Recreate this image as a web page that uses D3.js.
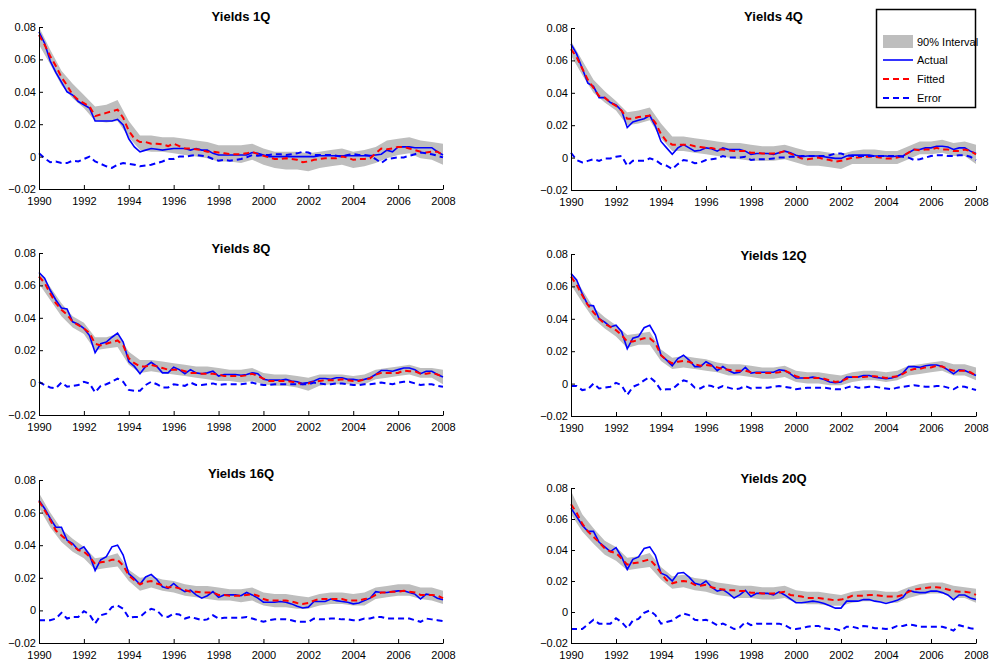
<!DOCTYPE html>
<html>
<head>
<meta charset="utf-8">
<script src="https://cdn.jsdelivr.net/npm/d3@7"></script>
<style>
  body { margin: 0; background: #fff; }
  svg { display: block; font-family: "Liberation Sans", Arial, Helvetica, sans-serif; }
</style>
</head>
<body>
<div id="chart"></div>
<script>
// all series values are in units of 0.001
// quarterly points 1990Q1 .. 2008Q1, the band is read every half year
const quarters = d3.range(73).map(i => 1990 + i * 0.25)
const halfYears = d3.range(37).map(i => 1990 + i * 0.5)
const xTicks = [1990, 1992, 1994, 1996, 1998, 2000, 2002, 2004, 2006, 2008]
const yTicks = [-0.02, 0, 0.02, 0.04, 0.06, 0.08]
const titles = ["Yields 1Q", "Yields 4Q", "Yields 8Q", "Yields 12Q", "Yields 16Q", "Yields 20Q"]
const legendLabels = ["90% Interval", "Actual", "Fitted", "Error"]

const actual1Q = [77,70,59,52, 46,40,38,34, 32,30,22,22, 22,22,23,19.5, 11,6,3,4, 5,4.5,4,4.5, 5,5,5,4, 5,4,4,2, 1,1,1,1, 1,1,2.5,2, 1,0,0,0, 0,0,0,0, 0,0,0.5,0.5, 0.5,0.5,0.5,0.5, 0.5,0.5,0.5,0.5, 1,1.5,4,3, 6,6,6,5.5, 5.5,5.5,5.5,3, 1]
const fitted1Q = [75,69,62,56, 49,44,38,35, 33,31,25,26, 27,28,29,24, 16,11,9,9, 8,8,7.5,6.5, 8,6.5,5,5, 4.5,4,3,3, 2.5,2,1.5,1.5, 1.5,2,3,1.5, 0.5,-0.5,-1.5,-1.5, -1,-1.5,-2,-3.5, -3,-2,-1.5,-1, -1,-1,0,-0.5, -2,-1.5,-1.5,-1, 2,5,4.5,5, 6,6,5,4, 3,2.5,3,3, 1]
const error1Q = [2,-1,-3.5,-3, -4,-4,-2.5,-3, -1.5,0,-3,-4.5, -6,-7,-5,-4, -4.5,-5,-6,-5.5, -5,-4,-3,-1.5, -1.5,0,0,0.5, 1,0.5,0,-1.5, -2.5,-2,-2.5,-2, -1.5,-0.5,1,0.5, 1,1,1.5,1.5, 1,1.5,2,3, 2.5,1,1,1, 1,0.5,0,1, 1.5,1,1,0.5, -1.5,-4,-1.5,-1, -0.5,-0.5,0.5,1.5, 2.5,2,1.5,0.5, -0.5]
const lo1Q = [69,57,44,36,30,22,21,22,12,4,3,3,2,1,0,-1,-3,-3,-4,-2,-5,-7,-8,-8,-9,-7,-6,-5,-7,-6,-4,-1,1,2,-1,-2,-5]
const hi1Q = [80,66,53,45,38,31,32,35,22,13,13,12,12,11,10,9,7,7,7,8,5,3,3,3,2,3,4,5,3,4,6,10,11,12,10,9,8]

const actual4Q = [70,64,55,46, 44,37,37,34, 32.5,29,18.5,22, 23,24,26,19.5, 10,6,2,6, 8,6,4,4.5, 6,5.5,4,6, 5,5,5,4, 2,2.5,2.5,2.5, 2,3,4,3, 1.5,0.5,1,1, 1,0.5,0,-0.5, -0.5,1,1.5,1.5, 1.5,1.5,1,1, 1,0.5,1,1, 3,5,5,6, 6,7,7,6.5, 5,6,6,4, 2.5]
const fitted4Q = [67,62,55,48, 43,38,37,34, 32,29,24,24, 25,25.5,26,21.5, 14.5,10,8,8, 8,8,7,6.5, 6,6,5,5, 4.5,4,4,4, 3,3,2.5,2.5, 2.5,3,4,2.5, 1,-0.5,-1,-0.5, 0,-1,-1.5,-2.5, -2,-1,0,0, 0.5,0.5,0.5,0, -0.5,-0.5,0,1, 3,5,4.5,5, 5,6,5,5, 4,4,5,4, 2]
const error4Q = [3,-1.5,-3,-2, -1,-2,-0.5,-0.5, 0.5,1,-5,-2, -2,-2,-0.5,-1.5, -4,-5,-7,-4, -1.5,-2,-3.5,-3, -1.5,-1,-0.5,1, 0,0,0,0.5, -1.5,-1,-1,-1, -0.5,0,0,0.5, 0.5,1,1,1, 1,1,1.5,2.5, 2.5,1.5,1,1, 1,1,1,1, 1,1,1,0.5, 0,-1.5,-1,0, 1,1.5,1.5,1, 1,1.5,1.5,0.5, -1.5]
const lo4Q = [63,51,40,34,29,20,21,23,12,4,4,3,2,1,0,-1,-2,-2,-2,-1,-3,-5,-5,-6,-7,-4,-4,-4,-4,-4,-1,2,2,3,1,1,-4]
const hi4Q = [72,60,48,41,35,28,29,31,21,13,13,12,11,10,9,9,8,7,7,8,6,4,4,3,2,4,5,5,4,4,7,10,10,11,9,10,8]

const actual8Q = [68,64.5,57,51, 46,45.5,37.5,36, 33.5,29,18.5,24, 25,28,30.5,25, 13,10,5.5,10, 12.5,10,6,6, 9.5,8,5.5,8, 6,5.5,6,7, 4,5,5,5, 4.5,5,6,5.5, 2,1.5,1.5,1.5, 2,1,0.5,-0.5, 0,1,2.5,2.5, 2,3,3,2, 2,1.5,2,3, 5,7.5,7.5,7, 8,9,9,8, 5.5,7,7,5, 3.5]
const fitted8Q = [65.5,61.5,55,49, 45,42,37.5,35.5, 33.5,30.5,24,23, 24,25,26,23, 15,12,10,10, 11,10,9,8, 8,8,7,6, 6,5.5,5.5,5.5, 5,4,4,4, 4,4.5,5.5,4, 2.5,1,1,1, 1,0.5,0,-1, -0.5,0.5,1,1.5, 1.5,1.5,2,1.5, 1,1,2,2.5, 5,6,6,6, 6,7.5,7,7, 5.5,5.5,6,5, 3.5]
const error8Q = [0.5,-1.5,-3,-3.5, 0,-2.5,-2,-1.5, 0.5,-0.5,-6,-2, -1,0.5,2.5,0.5, -4.5,-5,-5,-1.5, 0.5,-1,-3,-3, -1,-1.5,-2,0, -1.5,-1.5,-1,-0.5, -1.5,-1,-1,-1, -1,-0.5,0,-1, -1.5,-1.5,-1,-1, -1,-1,-1,-1, -1,0,-0.5,-1, -1,-0.5,-0.5,-1, -1.5,-1.5,-1,-1, -0.5,0,-0.5,-1, 0,0.5,0.5,-0.5, -1.5,-1,-1,-2, -2.5]
const lo8Q = [61,51,41,34,30,20,21,22,11,6,7,6,5,4,3,2,1,1,0,1,-1,-2,-2,-3,-5,-2,-1,-1,-1,-1,2,3,4,5,3,3,-1]
const hi8Q = [69,59,49,41,37,28,28,30,19,14,14,13,12,11,10,10,9,8,8,9,6,5,5,4,3,5,5,5,4,5,8,9,10,11,9,9,8]

const actual12Q = [68,64,55.5,48.5, 48,40,38,35, 36,32,21.5,28, 29,34.5,36,30, 17.5,14.5,11,15.5, 17.5,14.5,10.5,10.5, 13.5,11.5,8,10.5, 8,6.5,7,10, 6.5,7,7,7, 7,8.5,8,6, 3.5,3.5,3.5,4, 3.5,2.5,1,0.5, 1,4,4,4, 5,5,4,3.5, 3,3.5,4.5,6.5, 10.5,10.5,10,11, 11.5,11.5,10.5,8.5, 6,8.5,8,6.5, 5]
const fitted12Q = [66,61,54.5,48.5, 44,40,37,35, 33,30,26,26, 27,28,28,25, 17.5,14.5,12.5,13.5, 14,13.5,12,11, 11.5,11,10,9, 8.5,8,8,8, 7,6.5,6.5,6.5, 6.5,7,8,6.5, 4.5,3.5,3.5,3.5, 3.5,3,2,1, 1.5,3,4,4, 4,4.5,4.5,4, 3.5,4,4.5,6, 8,9,9,10, 10,11,10.5,9, 8,8,8,7, 5]
const error12Q = [-1.5,-1.5,-4,-3.5, 0,-3,-2.5,-2, 0.5,-1,-7,-2, -0.5,2,4,1, -4,-3.5,-3.5,-0.5, 2,1,-2.5,-3, -1,-1.5,-3,-1.5, -2.5,-3.5,-3,-1.5, -3,-2.5,-2.5,-2.5, -2,-1.5,-2,-2.5, -3.5,-3,-2.5,-2.5, -2.5,-2.5,-3,-3.5, -3.5,-2.5,-1.5,-2.5, -2.5,-2,-2,-2.5, -3,-3.5,-2.5,-2, -1.5,-1,-1.5,-2, -2,-1.5,-1.5,-2.5, -3.5,-1.5,-2,-3, -4]
const lo12Q = [61,50,40,34,29,22,24,24,14,9,10,9,8,7,5,5,4,3,3,4,1,0,0,-1,-1,1,2,2,1,2,5,6,7,8,5,5,2]
const hi12Q = [69,58,47,41,36,30,31,32,21,16,17,16,15,13,12,12,11,10,10,11,8,7,7,6,5,7,8,8,7,8,11,12,13,14,12,12,10]

const actual16Q = [67.5,62.5,56.5,51, 51,43,41,37, 39,34,24.5,31, 33,39,40,34, 22.5,19.5,16,20.5, 22,19,14.5,13.5, 16.5,13.5,11.5,12.5, 9.5,7.5,9,11.5, 8,9.5,9.5,9.5, 9,11,9.5,7.5, 5,5,5,5.5, 5,4,2.5,1.5, 2,5.5,5.5,5.5, 7,6,5.5,5, 4,4.5,6,7.5, 11.5,11,11,11.5, 12,12,11,10, 7,10,9.5,7.5, 6.5]
const fitted16Q = [67,61.5,55.5,49, 46,43,40,37, 36,33,28.5,29.5, 30,31,31,27.5, 21.5,18.5,16,17.5, 18,16.5,15.5,14, 14.5,13.5,12.5,11.5, 11.5,11,11,11, 9.5,9.5,9,9, 9,9.5,10,9, 7,6,6,6, 6,5.5,4.5,4, 4.5,6,7,7, 7,7,7,6, 6,6,7,7.5, 9.5,11,11,11.5, 11.5,12,11.5,11, 9.5,9.5,9.5,9, 7.5]
const error16Q = [-6,-6,-6,-5, -1.5,-5,-4,-4, -0.5,-2.5,-8,-3, -2,2,3,1, -4.5,-4,-4,-1, 1,0,-3.5,-4, -2,-2.5,-5,-4, -5,-6,-5.5,-3, -5,-4.5,-4.5,-4.5, -4.5,-4,-5,-6, -7,-6,-5.5,-5.5, -5.5,-6,-7,-7, -7,-5,-5.5,-5.5, -5,-5,-5.5,-5.5, -6,-6,-5,-5, -4,-4,-5,-5, -5,-5,-5,-6, -7,-5,-5.5,-6, -6.5]
const lo16Q = [63,51,42,36,32,25,26,27,18,12,14,12,11,9,8,7,6,6,5,6,3,2,2,1,1,3,4,4,3,3,7,8,9,9,7,6,4]
const hi16Q = [72,60,50,44,39,32,33,35,25,20,21,19,18,16,15,15,14,13,13,14,11,10,10,9,8,10,11,11,10,11,14,15,16,16,14,14,12]

const actual20Q = [67,61.5,56,52, 52,45,42,39, 41.5,35.5,27.5,34, 35.5,41,42,36.5, 25,23.5,20,25, 25.5,22.5,18.5,17.5, 20,16,13.5,14.5, 12,9,11,14, 10,12,12,12, 11,13,11,8.5, 6,6,6.5,7, 6.5,5.5,4,2.5, 2.5,7,7,7, 8,8,7,6.5, 5.5,6.5,7.5,9.5, 14,13,12.5,12.5, 13.5,13.5,12.5,11, 8,11,11,9, 8]
const fitted20Q = [69.5,64,57,52, 48.5,45,41,39, 38,34.5,30.5,31.5, 32,33,34,30, 25,20.5,18.5,19.5, 20,19.5,17.5,17, 17.5,16,15,14.5, 14,14,13.5,13.5, 12.5,12.5,12,12, 12,12.5,13,11, 10.5,10,9,9, 9,8.5,8,7.5, 8,9,10.5,10.5, 10.5,11,11,10.5, 10,10,10,11, 13,14.5,15,15.5, 16,16,15.5,14.5, 13.5,13,13,12.5, 11]
const error20Q = [-11,-11,-11,-8, -5,-7.5,-7.5,-7.5, -4,-6.5,-10.5,-5.5, -4.5,-0.5,1,-2, -7.5,-6.5,-5.5,-3, -1,-2,-5,-5.5, -5,-6.5,-8.5,-7.5, -9,-11,-10,-6.5, -8.5,-7.5,-7.5,-7.5, -7.5,-7.5,-8.5,-10.5, -11,-10.5,-9.5,-9, -9,-10.5,-11,-11, -12,-9.5,-9.5,-10.5, -9,-9.5,-10.5,-10.5, -11,-10.5,-9,-9, -8,-8.5,-9.5,-9.5, -9.5,-9.5,-9.5,-10.5, -12,-8.5,-9.5,-10.5, -11]
const lo20Q = [63,52,44,37,33,27,28,29,21,15,16,14,13,11,10,9,9,8,8,9,6,5,5,4,4,6,7,7,6,6,9,11,12,12,9,9,6]
const hi20Q = [78,63,54,46,42,35,36,38,29,23,24,22,21,19,18,17,17,16,16,17,14,13,13,12,11,13,14,14,13,13,16,18,19,19,17,16,15]

const series = [
  { actual: actual1Q, fitted: fitted1Q, error: error1Q, lo: lo1Q, hi: hi1Q },
  { actual: actual4Q, fitted: fitted4Q, error: error4Q, lo: lo4Q, hi: hi4Q },
  { actual: actual8Q, fitted: fitted8Q, error: error8Q, lo: lo8Q, hi: hi8Q },
  { actual: actual12Q, fitted: fitted12Q, error: error12Q, lo: lo12Q, hi: hi12Q },
  { actual: actual16Q, fitted: fitted16Q, error: error16Q, lo: lo16Q, hi: hi16Q },
  { actual: actual20Q, fitted: fitted20Q, error: error20Q, lo: lo20Q, hi: hi20Q },
]

const boxes = [
  { left: 39, right: 443, top: 27, bottom: 189, titleY: 21 },
  { left: 571, right: 976, top: 28, bottom: 190, titleY: 21 },
  { left: 39, right: 443, top: 253, bottom: 415, titleY: 253 },
  { left: 571, right: 976, top: 254, bottom: 416, titleY: 260 },
  { left: 39, right: 443, top: 480, bottom: 643, titleY: 478 },
  { left: 571, right: 976, top: 488, bottom: 643, titleY: 483 },
]

const bandColor = "#bebebe"
const blue = "#0000ff"
const red = "#ff0000"

const svg = d3.select("#chart")
  .append("svg")
  .attr("width", 992)
  .attr("height", 665)

svg.append("rect").attr("width", 992).attr("height", 665).attr("fill", "#fff")

series.forEach((s, i) => {
  const b = boxes[i]
  const x = d3.scaleLinear().domain([1990, 2008]).range([b.left, b.right])
  const y = d3.scaleLinear().domain([-0.02, 0.08]).range([b.bottom, b.top])
  const g = svg.append("g")

  const band = halfYears.map((t, j) => ({ t, lo: s.lo[j] / 1000, hi: s.hi[j] / 1000 }))
  g.append("path")
    .datum(band)
    .attr("d", d3.area().x(d => x(d.t)).y0(d => y(d.lo)).y1(d => y(d.hi)))
    .attr("fill", bandColor)

  const line = d3.line()
    .x((d, j) => x(quarters[j]))
    .y(d => y(d / 1000))

  g.append("path")
    .datum(s.actual)
    .attr("d", line)
    .attr("fill", "none")
    .attr("stroke", blue)
    .attr("stroke-width", 1.6)

  g.append("path")
    .datum(s.fitted)
    .attr("d", line)
    .attr("fill", "none")
    .attr("stroke", red)
    .attr("stroke-width", 2)
    .attr("stroke-dasharray", "6,4")

  g.append("path")
    .datum(s.error)
    .attr("d", line)
    .attr("fill", "none")
    .attr("stroke", blue)
    .attr("stroke-width", 2)
    .attr("stroke-dasharray", "6,4")

  // axes, ticks point inward like matlab
  const xAxis = d3.axisBottom(x)
    .tickValues(xTicks)
    .tickFormat(d3.format("d"))
    .tickSizeInner(-4)
    .tickSizeOuter(0)
    .tickPadding(8)

  const yAxis = d3.axisLeft(y)
    .tickValues(yTicks)
    .tickFormat(d => d === 0 ? "0" : d3.format(".2f")(d))
    .tickSizeInner(-4)
    .tickSizeOuter(0)
    .tickPadding(3)

  const gx = g.append("g").attr("transform", `translate(0,${b.bottom})`).call(xAxis)
  const gy = g.append("g").attr("transform", `translate(${b.left},0)`).call(yAxis)

  ;[gx, gy].forEach(a => {
    a.selectAll("text").attr("font-size", 11).attr("fill", "#000")
    a.selectAll("line, path").attr("stroke", "#000")
    a.attr("font-family", null)
  })

  g.append("text")
    .attr("x", (b.left + b.right) / 2)
    .attr("y", b.titleY)
    .attr("text-anchor", "middle")
    .attr("font-size", 13)
    .attr("font-weight", "bold")
    .text(titles[i])
})

// legend in the top right panel
const legend = svg.append("g")
legend.append("rect")
  .attr("x", 876.5)
  .attr("y", 9.5)
  .attr("width", 99)
  .attr("height", 98)
  .attr("fill", "#fff")
  .attr("stroke", "#000")
  .attr("stroke-width", 1.5)

const rowY = [42, 60, 79, 98]
legend.append("rect")
  .attr("x", 883)
  .attr("y", rowY[0] - 7)
  .attr("width", 30)
  .attr("height", 13)
  .attr("fill", bandColor)

const legendStyles = [
  null,
  { color: blue, dash: null, width: 1.6 },
  { color: red, dash: "6,4", width: 2 },
  { color: blue, dash: "6,4", width: 2 },
]

legendLabels.forEach((label, k) => {
  const st = legendStyles[k]
  if (st) {
    legend.append("line")
      .attr("x1", 883)
      .attr("x2", 913)
      .attr("y1", rowY[k])
      .attr("y2", rowY[k])
      .attr("stroke", st.color)
      .attr("stroke-width", st.width)
      .attr("stroke-dasharray", st.dash)
  }
  legend.append("text")
    .attr("x", 917)
    .attr("y", rowY[k])
    .attr("dy", "0.35em")
    .attr("font-size", 11)
    .text(label)
})
</script>
</body>
</html>
